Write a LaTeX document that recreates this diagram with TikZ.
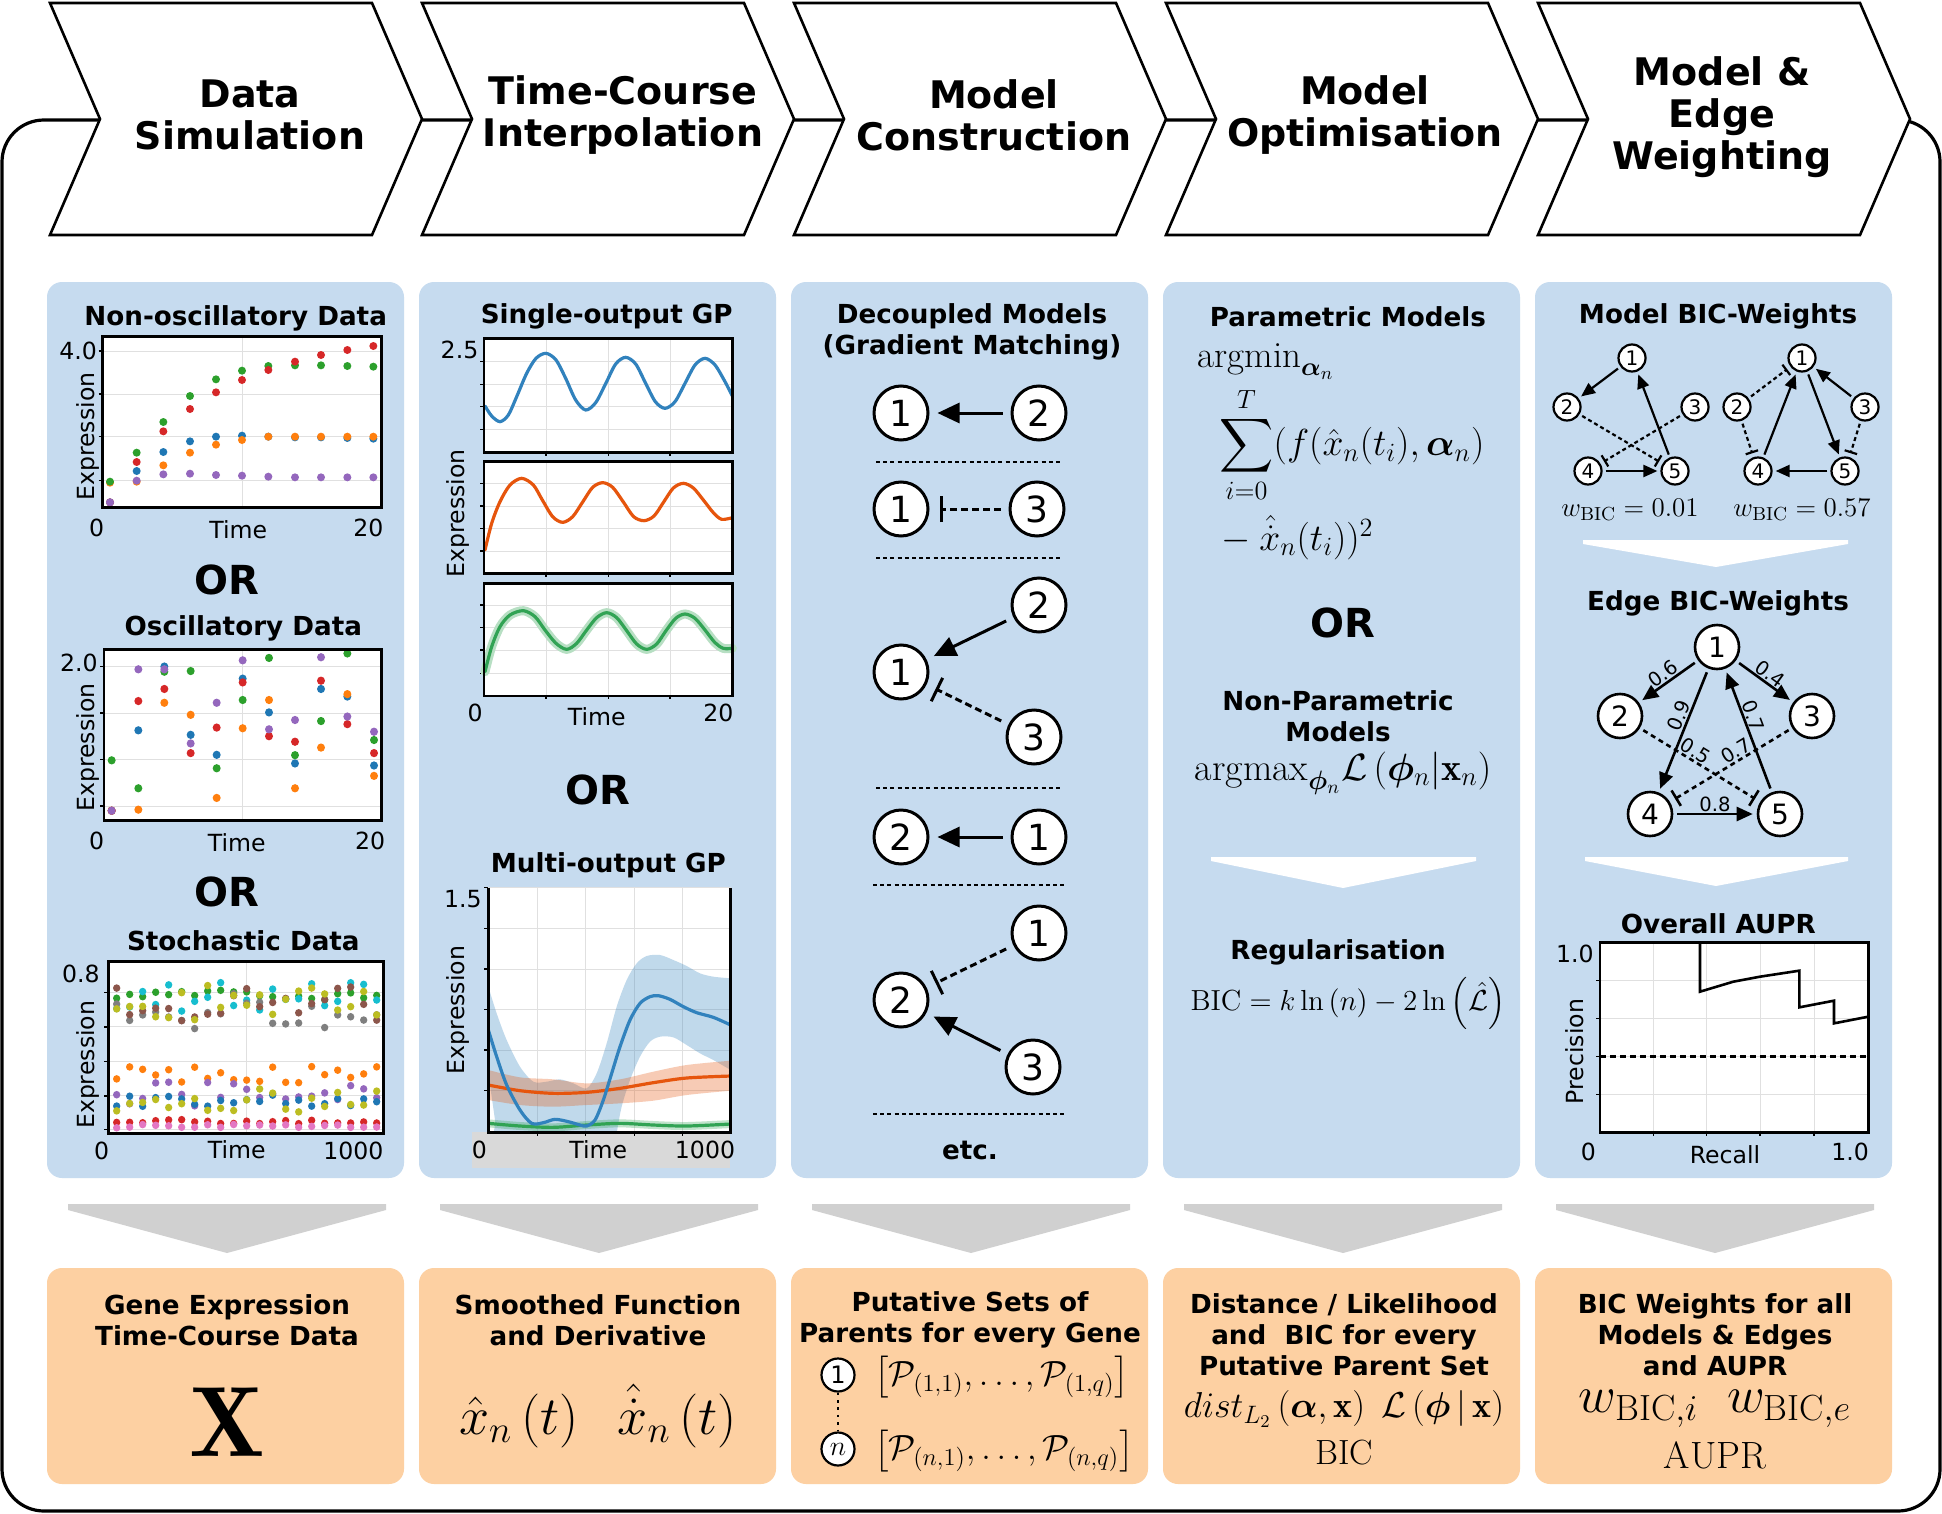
\RequirePackage{fix-cm}
\documentclass[tikz,border=0pt]{standalone}
\usepackage{amsmath,amssymb}
\usepackage{bm}
\usepackage{fontspec}
\newfontfamily\dvs{DejaVu Sans}
\usetikzlibrary{arrows.meta}
\definecolor{panelblue}{RGB}{198,219,239}
\definecolor{boxorange}{RGB}{253,208,162}
\definecolor{arrowgray}{RGB}{208,208,208}
\definecolor{tabblue}{HTML}{1F77B4}
\definecolor{taborange}{HTML}{FF7F0E}
\definecolor{tabgreen}{HTML}{2CA02C}
\definecolor{tabred}{HTML}{D62728}
\definecolor{tabpurple}{HTML}{9467BD}
\definecolor{tabbrown}{HTML}{8C564B}
\definecolor{tabpink}{HTML}{E377C2}
\definecolor{tabgray}{HTML}{7F7F7F}
\definecolor{tabolive}{HTML}{BCBD22}
\definecolor{tabcyan}{HTML}{17BECF}
\definecolor{gpblue}{HTML}{3182BD}
\definecolor{gporange}{HTML}{E6550D}
\definecolor{gpgreen}{HTML}{31A354}
\tikzset{
  chev/.style={draw=black, fill=white, line width=1.3pt, line join=miter},
  ttl/.style={font=\dvs\bfseries\fontsize{19}{21}\selectfont, align=center, inner sep=0pt},
  hd/.style={font=\dvs\bfseries\fontsize{13.1}{15.5}\selectfont, align=center, inner sep=0pt},
  orf/.style={font=\dvs\bfseries\fontsize{20}{21}\selectfont, inner sep=0pt},
  tk/.style={font=\dvs\fontsize{11.8}{14}\selectfont, inner sep=0pt},
  grd/.style={draw=black!12, line width=0.5pt},
  spine/.style={draw=black, line width=1.3pt},
  tickm/.style={draw=black, line width=0.8pt},
  gpline/.style={line width=1.6pt, line cap=round},
  gnode/.style={circle, draw=black, line width=1.5pt, fill=white, minimum size=27pt, inner sep=0pt, font=\dvs\fontsize{18}{18}\selectfont},
  gact/.style={line width=1.5pt, -{Triangle[length=11pt,width=10pt]}, shorten >=4pt, shorten <=4pt},
  ginh/.style={line width=1.5pt, dash pattern=on 3.5pt off 2pt, -{Bar[width=13pt,line width=1.5pt]}, shorten >=5pt, shorten <=4pt},
  sepl/.style={line width=1.3pt, dash pattern=on 2pt off 1.6pt},
  snode/.style={circle, draw=black, line width=1.1pt, fill=white, minimum size=13.5pt, inner sep=0pt, font=\dvs\fontsize{10}{10}\selectfont},
  sact/.style={line width=1.1pt, -{Triangle[length=7pt,width=6pt]}, shorten >=1.5pt, shorten <=1.5pt},
  sinh/.style={line width=1.1pt, dash pattern=on 2pt off 1.5pt, -{Bar[width=6.5pt,line width=1.1pt]}, shorten >=2pt, shorten <=1.5pt},
  enode/.style={circle, draw=black, line width=1.3pt, fill=white, minimum size=22pt, inner sep=0pt, font=\dvs\fontsize{14}{14}\selectfont},
  eact/.style={line width=1.3pt, -{Triangle[length=8pt,width=7pt]}, shorten >=2pt, shorten <=2pt},
  einh/.style={line width=1.3pt, dash pattern=on 2.5pt off 2pt, -{Bar[width=9pt,line width=1.3pt]}, shorten >=3pt, shorten <=2pt},
  elbl/.style={font=\dvs\fontsize{9.8}{9.8}\selectfont, inner sep=0.5pt},
  mth/.style={inner sep=0pt},
}
\begin{document}
\begin{tikzpicture}[x=0.5pt,y=-0.5pt]
\useasboundingbox (0,0) rectangle (1942,1514);
\fill[white] (0,0) rectangle (1942,1514);
\draw[line width=1.6pt, rounded corners=21pt] (2,120) rectangle (1940,1511);
\foreach \i in {0,...,4}{
  \draw[chev] ({50+372*\i},3) -- ({372+372*\i},3) -- ({422+372*\i},119) -- ({372+372*\i},235) -- ({50+372*\i},235) -- ({100+372*\i},119) -- cycle;
  \fill[panelblue, rounded corners=7.5pt] ({47+372*\i},282) rectangle ({404+372*\i},1178);
  \fill[arrowgray] ({68+372*\i},1204) -- ({386+372*\i},1204) -- ({386+372*\i},1210) -- ({227+372*\i},1253) -- ({68+372*\i},1210) -- cycle;
  \fill[boxorange, rounded corners=7.5pt] ({47+372*\i},1268) rectangle ({404+372*\i},1484);
}
\node[ttl] (t1) at (250,115) {Data\\Simulation};
\node[ttl] (t2) at (623,115) {Time-Course\\Interpolation};
\node[ttl] (t3) at (994,115) {Model\\Construction};
\node[ttl] (t4) at (1365,115) {Model\\Optimisation};
\node[ttl] (t5) at (1722,117) {Model \&\\Edge\\Weighting};

%% ---------- Panel 1: non-oscillatory ----------
\begin{scope}[shift={(40,290)},x=0.16667pt,y=-0.16667pt]
\node[hd] (h11) at (587,85) {Non-oscillatory Data};
\fill[white] (188,140) rectangle (1025,652);
\foreach \yy in {183,312,440,572}{\draw[grd] (188,\yy) -- (1025,\yy); \draw[tickm] (176,\yy) -- (188,\yy);}
\draw[grd] (606,140) -- (606,652);
\foreach \xx/\yy in {210/637,290/543,370/486,450/454,528/440,606/437,685/440,765/442,843/442,922/444,1000/446} \fill[tabblue] (\xx,\yy) circle[radius=12];
\foreach \xx/\yy in {210/578,290/575,370/526,450/488,528/464,606/450,685/440,765/440,843/440,922/440,1000/440} \fill[taborange] (\xx,\yy) circle[radius=12];
\foreach \xx/\yy in {210/575,290/488,370/396,450/318,528/268,606/242,685/228,765/226,843/226,922/228,1000/230} \fill[tabgreen] (\xx,\yy) circle[radius=12];
\foreach \xx/\yy in {210/637,290/516,370/424,450/357,528/307,606/270,685/240,765/215,843/195,922/180,1000/168} \fill[tabred] (\xx,\yy) circle[radius=12];
\foreach \xx/\yy in {210/637,290/572,370/553,450/551,528/555,606/557,685/560,765/562,843/562,922/562,1000/562} \fill[tabpurple] (\xx,\yy) circle[radius=12];
\draw[spine] (188,140) rectangle (1025,652);
\node[tk,anchor=east] (y11) at (172,183) {4.0};
\node[tk,rotate=90] (e11) at (145,440) {Expression};
\node[tk] (x110) at (170,715) {0};
\node[tk] (x11t) at (595,718) {Time};
\node[tk] (x1120) at (985,715) {20};
\node[orf] (or11) at (560,870) {OR};
\end{scope}

%% ---------- Panel 1: oscillatory + stochastic ----------
\begin{scope}[shift={(40,620)},x=0.16667pt,y=-0.17241pt]
\node[hd] (h12) at (610,25) {Oscillatory Data};
\fill[white] (192,85) rectangle (1025,582);
\foreach \yy in {135,270,405,540}{\draw[grd] (192,\yy) -- (1025,\yy); \draw[tickm] (180,\yy) -- (192,\yy);}
\draw[grd] (608,85) -- (608,582);
\foreach \xx/\yy in {215/553,295/320,373/135,452/333,530/391,608/170,687/268,765/416,843/200,922/222,1002/422} \fill[tabblue] (\xx,\yy) circle[radius=12];
\foreach \xx/\yy in {215/553,295/550,373/240,452/275,530/516,608/314,687/232,765/488,843/370,922/215,1002/452} \fill[taborange] (\xx,\yy) circle[radius=12];
\foreach \xx/\yy in {215/407,295/488,373/150,452/148,530/430,608/232,687/110,765/392,843/293,922/97,1002/348} \fill[tabgreen] (\xx,\yy) circle[radius=12];
\foreach \xx/\yy in {215/553,295/235,373/200,452/386,530/312,608/181,687/337,765/353,843/176,922/302,1002/386} \fill[tabred] (\xx,\yy) circle[radius=12];
\foreach \xx/\yy in {215/553,295/143,373/143,452/358,530/240,608/117,687/317,765/290,843/108,922/280,1002/324} \fill[tabpurple] (\xx,\yy) circle[radius=12];
\draw[spine] (192,85) rectangle (1025,582);
\node[tk,anchor=east] (y12) at (174,125) {2.0};
\node[tk,rotate=90] (e12) at (145,370) {Expression};
\node[tk] (x120) at (170,640) {0};
\node[tk] (x12t) at (590,645) {Time};
\node[tk] (x1220) at (990,640) {20};
\node[orf] (or12) at (560,790) {OR};
\node[hd] (h13) at (610,930) {Stochastic Data};
\fill[white] (205,990) rectangle (1030,1490);
\foreach \yy in {1080,1180,1280,1380,1478}{\draw[grd] (205,\yy) -- (1030,\yy); \draw[tickm] (193,\yy) -- (205,\yy);}
\draw[grd] (618,990) -- (618,1490);
\pgfmathsetseed{11}
\foreach \cc/\mm/\ss in {tabgreen/1085/18, tabcyan/1090/45, tabgray/1130/60, tabbrown/1110/60, tabolive/1110/55, taborange/1320/25, tabpurple/1375/35, tabblue/1395/18, tabolive/1395/35, tabred/1455/6, tabpink/1468/5}{
  \foreach \xx in {230,269,...,1010}{
    \pgfmathsetmacro\yy{\mm+\ss*rand}
    \fill[\cc] (\xx,\yy) circle[radius=11];
  }
}
\draw[spine] (205,990) rectangle (1030,1490);
\node[tk,anchor=east] (y13) at (180,1025) {0.8};
\node[tk,rotate=90] (e13) at (145,1290) {Expression};
\node[tk] (x130) at (185,1540) {0};
\node[tk] (x13t) at (590,1535) {Time};
\node[tk] (x131) at (940,1540) {1000};
\end{scope}

%% ---------- Panel 2: single-output GP ----------
\begin{scope}[shift={(420,290)},x=0.16667pt,y=-0.16667pt]
\node[hd] (h21) at (560,80) {Single-output GP};
\foreach \ya/\yb in {145/487,515/850,880/1218}{
  \fill[white] (192,\ya) rectangle (937,\yb);
  \foreach \xx in {378,565,750}{\draw[grd] (\xx,\ya) -- (\xx,\yb); \draw[tickm] (\xx,\yb) -- (\xx,\yb+10);}
}
\foreach \yy in {215,283,350,418,580,648,715,783,945,1013,1080,1150}{\draw[grd] (192,\yy) -- (937,\yy); \draw[tickm] (180,\yy) -- (192,\yy);}
\draw[gpblue,gpline] plot[smooth] coordinates {(195,348) (215,378) (240,395) (265,375) (290,320) (320,250) (348,205) (378,190) (408,210) (437,265) (467,330) (497,360) (527,338) (557,281) (587,222) (617,202) (647,222) (676,278) (706,335) (735,355) (765,335) (795,280) (825,225) (855,205) (885,225) (915,275) (937,318)};
\draw[gporange,gpline] plot[smooth] coordinates {(195,780) (215,700) (240,635) (270,585) (305,565) (340,585) (367,630) (398,680) (428,697) (458,680) (488,636) (518,592) (548,578) (578,592) (610,636) (641,680) (672,692) (702,678) (731,636) (760,594) (790,580) (820,594) (850,630) (880,668) (905,688) (937,683)};
\draw[gpgreen!35, line width=4.5pt, line cap=round] plot[smooth] coordinates {(195,1145) (215,1070) (240,1010) (270,975) (310,962) (345,980) (375,1020) (408,1060) (440,1078) (470,1060) (500,1020) (530,983) (560,968) (590,983) (620,1022) (650,1062) (680,1078) (710,1062) (738,1022) (767,985) (795,972) (825,985) (855,1020) (885,1058) (910,1075) (937,1075)};
\draw[gpgreen,gpline] plot[smooth] coordinates {(195,1145) (215,1070) (240,1010) (270,975) (310,962) (345,980) (375,1020) (408,1060) (440,1078) (470,1060) (500,1020) (530,983) (560,968) (590,983) (620,1022) (650,1062) (680,1078) (710,1062) (738,1022) (767,985) (795,972) (825,985) (855,1020) (885,1058) (910,1075) (937,1075)};
\foreach \ya/\yb in {145/487,515/850,880/1218}{\draw[spine] (192,\ya) rectangle (937,\yb);}
\node[tk,anchor=east] (y21) at (176,180) {2.5};
\node[tk,rotate=90] (e21) at (115,670) {Expression};
\node[tk] (x210) at (165,1270) {0};
\node[tk] (x21t) at (530,1280) {Time};
\node[tk] (x2120) at (895,1270) {20};
\end{scope}
\node[orf] (or21) at (598,790) {OR};

%% ---------- Panel 2: multi-output GP ----------
\begin{scope}[shift={(420,840)},x=0.16667pt,y=-0.16667pt]
\node[hd] (h22) at (565,75) {Multi-output GP};
\fill[black!15] (155,877) rectangle (930,985);
\fill[white] (205,143) rectangle (932,877);
\foreach \xx in {352,497,643,788}{\draw[grd] (\xx,143) -- (\xx,877); \draw[tickm] (\xx,877) -- (\xx,889);}
\foreach \yy in {143,265,387,508,630,752}{\draw[grd] (205,\yy) -- (932,\yy); \draw[tickm] (193,\yy) -- (205,\yy);}
\begin{scope}
\clip (205,143) rectangle (932,877);
\fill[gpblue, opacity=0.3] plot[smooth] coordinates {(205,440) (230,520) (260,600) (300,680) (340,725) (380,725) (420,718) (460,730) (500,745) (530,700) (560,610) (590,500) (620,420) (650,370) (680,348) (720,345) (760,360) (800,378) (840,400) (880,410) (932,415)} -- plot[smooth] coordinates {(932,690) (880,660) (840,640) (800,615) (760,592) (720,590) (690,605) (660,650) (630,720) (605,800) (590,880) (580,950) (240,950) (225,840) (205,700)} -- cycle;
\fill[gporange, opacity=0.3] plot[smooth] coordinates {(205,690) (300,712) (400,718) (500,730) (600,718) (700,695) (800,675) (932,662)} -- plot[smooth] coordinates {(932,752) (800,765) (700,782) (600,790) (500,795) (400,800) (300,795) (205,780)} -- cycle;
\fill[gpgreen, opacity=0.3] plot[smooth] coordinates {(205,838) (300,846) (400,850) (500,843) (600,838) (700,843) (800,846) (932,840)} -- plot[smooth] coordinates {(932,864) (800,870) (700,867) (600,862) (500,867) (400,874) (300,870) (205,862)} -- cycle;
\draw[gporange,gpline] plot[smooth] coordinates {(205,735) (300,752) (400,760) (500,757) (600,745) (700,728) (800,714) (932,708)};
\draw[gpgreen,gpline] plot[smooth] coordinates {(205,850) (300,858) (400,862) (500,855) (600,850) (700,855) (800,858) (932,852)};
\draw[gpblue,gpline] plot[smooth] coordinates {(205,570) (230,650) (260,735) (300,810) (335,850) (370,848) (405,838) (445,845) (480,855) (500,858) (525,840) (550,780) (575,700) (600,620) (630,540) (660,490) (690,470) (715,467) (750,478) (790,500) (830,518) (880,532) (932,555)};
\end{scope}
\draw[spine] (205,143) -- (205,877) -- (932,877) -- (932,143);
\node[tk,anchor=east] (y22) at (186,178) {1.5};
\node[tk,rotate=90] (e22) at (115,510) {Expression};
\node[tk] (x220) at (178,930) {0};
\node[tk] (x22t) at (535,930) {Time};
\node[tk] (x221) at (855,930) {1000};
\end{scope}

%% ---------- Panel 3: decoupled models ----------
\node[hd] (h31) at (972,332) {Decoupled Models\\(Gradient Matching)};
\node[gnode] (c1a) at (901,413) {1};
\node[gnode] (c2a) at (1039,413) {2};
\draw[gact] (c2a) -- (c1a);
\coordinate (s1l) at (876,462); \coordinate (s1r) at (1062,462);
\draw[sepl] (s1l) -- (s1r);
\node[gnode] (c1b) at (901,509) {1};
\node[gnode] (c3b) at (1037,509) {3};
\draw[ginh] (c3b) -- (c1b);
\coordinate (s2l) at (876,558); \coordinate (s2r) at (1062,558);
\draw[sepl] (s2l) -- (s2r);
\node[gnode] (c2c) at (1039,605) {2};
\node[gnode] (c1c) at (901,672) {1};
\node[gnode] (c3c) at (1034,737) {3};
\draw[gact] (c2c) -- (c1c);
\draw[ginh] (c3c) -- (c1c);
\coordinate (s3l) at (876,788); \coordinate (s3r) at (1062,788);
\draw[sepl] (s3l) -- (s3r);
\node[gnode] (c2d) at (901,837) {2};
\node[gnode] (c1d) at (1039,837) {1};
\draw[gact] (c1d) -- (c2d);
\coordinate (s4l) at (873,885); \coordinate (s4r) at (1066,885);
\draw[sepl] (s4l) -- (s4r);
\node[gnode] (c1e) at (1039,933) {1};
\node[gnode] (c2e) at (901,1000) {2};
\node[gnode] (c3e) at (1033,1067) {3};
\draw[ginh] (c1e) -- (c2e);
\draw[gact] (c3e) -- (c2e);
\coordinate (s5l) at (873,1114); \coordinate (s5r) at (1066,1114);
\draw[sepl] (s5l) -- (s5r);
\node[hd] (etc) at (970,1150) {etc.};

%% ---------- Panel 4: optimisation ----------
\node[hd] (h41) at (1348,317) {Parametric Models};
\node[mth, anchor=base west, font=\fontsize{18.5}{20}\selectfont] (m41) at (1197,367) {$\mathrm{argmin}_{\boldsymbol{\alpha}_n}$};
\node[mth, anchor=west, font=\fontsize{18.8}{20}\selectfont] (m42) at (1219,445) {$\displaystyle\sum_{i=0}^{T}(f(\hat{x}_n(t_i),\boldsymbol{\alpha}_n)$};
\node[mth, anchor=base west, font=\fontsize{18.8}{20}\selectfont] (m43) at (1213,550) {${}-\hat{\dot{x}}_n(t_i))^2$};
\node[orf] (or41) at (1343,623) {OR};
\node[hd] (h42) at (1338,716) {Non-Parametric\\Models};
\node[mth, font=\fontsize{19}{20}\selectfont] (m44) at (1343,773) {$\mathrm{argmax}_{\boldsymbol{\phi}_n}\mathcal{L}\left(\boldsymbol{\phi}_n|\mathbf{x}_n\right)$};
\fill[white] (1211,857) -- (1476,857) -- (1476,861) -- (1343,888) -- (1211,861) -- cycle;
\node[hd] (h43) at (1338,952) {Regularisation};
\node[mth, font=\fontsize{14.5}{20}\selectfont] (m45) at (1348,1003) {$\mathrm{BIC}=k\ln{(n)}-2\ln{\left(\hat{\mathcal{L}}\right)}$};

%% ---------- Panel 5: weighting ----------
\node[hd] (h51) at (1718,316) {Model BIC-Weights};
\node[snode] (a1) at (1632,358) {1};
\node[snode] (a2) at (1567,407) {2};
\node[snode] (a3) at (1695,407) {3};
\node[snode] (a4) at (1588,471) {4};
\node[snode] (a5) at (1675,471) {5};
\draw[sact] (a1) -- (a2);
\draw[sinh] (a2) -- (a5);
\draw[sinh] (a3) -- (a4);
\draw[sact] (a5) -- (a1);
\draw[sact] (a4) -- (a5);
\node[snode] (b1) at (1802,358) {1};
\node[snode] (b2) at (1737,407) {2};
\node[snode] (b3) at (1865,407) {3};
\node[snode] (b4) at (1758,471) {4};
\node[snode] (b5) at (1845,471) {5};
\draw[sinh] (b2) -- (b1);
\draw[sinh] (b2) -- (b4);
\draw[sact] (b4) -- (b1);
\draw[sact] (b1) -- (b5);
\draw[sact] (b3) -- (b1);
\draw[sinh] (b3) -- (b5);
\draw[sact] (b5) -- (b4);
\node[mth, font=\fontsize{13.5}{16}\selectfont] (w1) at (1630,510) {$w_{\mathrm{BIC}}=0.01$};
\node[mth, font=\fontsize{13.5}{16}\selectfont] (w2) at (1802,510) {$w_{\mathrm{BIC}}=0.57$};
\fill[white] (1583,540) -- (1848,540) -- (1848,544) -- (1716,567) -- (1583,544) -- cycle;
\node[hd] (h52) at (1718,603) {Edge BIC-Weights};
\node[enode] (e1) at (1717,647) {1};
\node[enode] (e2) at (1620,716) {2};
\node[enode] (e3) at (1812,716) {3};
\node[enode] (e4) at (1650,814) {4};
\node[enode] (e5) at (1780,814) {5};
\draw[eact] (e1) -- node[elbl, sloped, above, pos=0.5] (l06) {0.6} (e2);
\draw[eact] (e1) -- node[elbl, sloped, above, pos=0.5] (l04) {0.4} (e3);
\draw[eact] (e1) -- node[elbl, sloped, above, pos=0.41] (l09) {0.9} (e4);
\draw[eact] (e5) -- node[elbl, sloped, above, pos=0.59] (l07a) {0.7} (e1);
\draw[einh] (e2) -- node[elbl, sloped, above, pos=0.42] (l05) {0.5} (e5);
\draw[einh] (e3) -- node[elbl, sloped, above, pos=0.42] (l07b) {0.7} (e4);
\draw[eact] (e4) -- node[elbl, above] (l08) {0.8} (e5);
\fill[white] (1585,857) -- (1848,857) -- (1848,861) -- (1716,886) -- (1585,861) -- cycle;
\begin{scope}[shift={(1540,880)},x=0.16667pt,y=-0.16667pt]
\node[hd] (h53) at (535,130) {Overall AUPR};
\fill[white] (180,187) rectangle (985,757);
\foreach \xx in {340,500,660,822}{\draw[grd] (\xx,187) -- (\xx,757); \draw[tickm] (\xx,757) -- (\xx,769);}
\foreach \yy in {301,415,529,643}{\draw[grd] (180,\yy) -- (985,\yy); \draw[tickm] (168,\yy) -- (180,\yy);}
\draw[line width=1.3pt, dash pattern=on 3pt off 2pt] (180,529) -- (985,529);
\draw[line width=1.3pt] (180,187) -- (480,187) -- (480,335) -- (580,305) -- (660,290) -- (778,272) -- (778,382) -- (882,362) -- (882,430) -- (985,410);
\draw[spine] (180,187) rectangle (985,757);
\node[tk,anchor=east] (y53) at (162,222) {1.0};
\node[tk,rotate=90] (e53) at (105,515) {Precision};
\node[tk] (x530) at (145,815) {0};
\node[tk] (x53r) at (555,825) {Recall};
\node[tk] (x531) at (930,815) {1.0};
\end{scope}

%% ---------- Bottom boxes ----------
\node[hd] (o1) at (227,1320) {Gene Expression\\Time-Course Data};
\node[mth, font=\fontsize{50}{50}\selectfont] (o1m) at (227,1422) {$\mathbf{X}$};
\node[hd] (o2) at (598,1320) {Smoothed Function\\and Derivative};
\node[mth, font=\fontsize{27}{28}\selectfont] (o2m) at (598,1416) {$\hat{x}_n\left(t\right)\;\;\hat{\dot{x}}_n\left(t\right)$};
\node[hd] (o3) at (970,1320) {Putative Sets of\\Parents for every Gene};
\node[circle, draw=black, line width=1.1pt, fill=white, minimum size=16.5pt, inner sep=0pt, font=\dvs\fontsize{12}{12}\selectfont] (q1) at (838,1375) {1};
\node[circle, draw=black, line width=1.1pt, fill=white, minimum size=16.5pt, inner sep=0pt, font=\fontsize{14}{14}\selectfont] (qn) at (838,1449) {$n$};
\draw[line width=1.4pt, dash pattern=on 1.3pt off 2.4pt] (q1) -- (qn);
\node[mth, anchor=west, font=\fontsize{17.5}{20}\selectfont] (o3a) at (874,1377) {$\left[\mathcal{P}_{(1,1)},\ldots,\mathcal{P}_{(1,q)}\right]$};
\node[mth, anchor=west, font=\fontsize{17.5}{20}\selectfont] (o3b) at (874,1451) {$\left[\mathcal{P}_{(n,1)},\ldots,\mathcal{P}_{(n,q)}\right]$};
\node[hd] (o4) at (1344,1335) {Distance / Likelihood\\and\ \ BIC for every\\Putative Parent Set};
\node[mth, font=\fontsize{18}{20}\selectfont] (o4m) at (1344,1409) {$dist_{L_2}\left(\boldsymbol{\alpha},\mathbf{x}\right)\;\mathcal{L}\left(\boldsymbol{\phi}\,|\,\mathbf{x}\right)$};
\node[mth, font=\fontsize{17.5}{20}\selectfont] (o4b) at (1344,1453) {$\mathrm{BIC}$};
\node[hd] (o5) at (1715,1335) {BIC Weights for all\\Models \& Edges\\and AUPR};
\node[mth, font=\fontsize{26}{28}\selectfont] (o5m) at (1715,1409) {$w_{\mathrm{BIC},i}\;\;w_{\mathrm{BIC},e}$};
\node[mth, font=\fontsize{19}{22}\selectfont] (o5b) at (1715,1455) {$\mathrm{AUPR}$};
\end{tikzpicture}
\end{document}
